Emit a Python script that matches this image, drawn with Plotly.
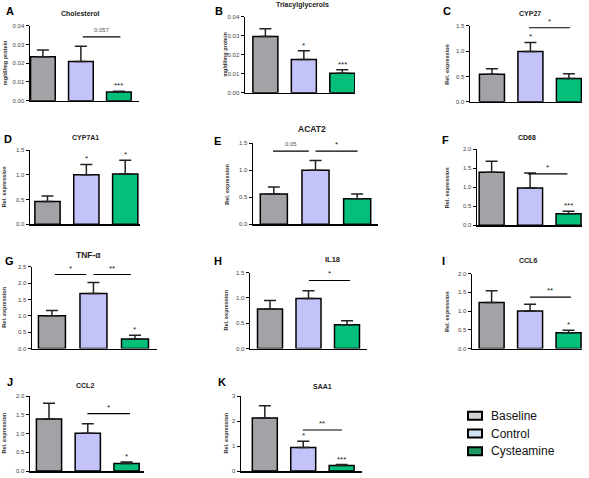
import plotly.graph_objects as go

W, H = 589, 478

groups = ["Baseline", "Control", "Cysteamine"]

cholesterol = [0.0235, 0.0209, 0.0047]
cholesterol_err = [0.0035, 0.0082, 0.0004]
cholesterol_stars = ["", "", "***"]

triacylglycerols = [0.0297, 0.0176, 0.0103]
triacylglycerols_err = [0.0040, 0.0045, 0.0019]
triacylglycerols_stars = ["", "*", "***"]

cyp27 = [0.54, 0.99, 0.46]
cyp27_err = [0.11, 0.18, 0.09]
cyp27_stars = ["", "*", ""]

cyp7a1 = [0.46, 1.00, 1.015]
cyp7a1_err = [0.11, 0.21, 0.28]
cyp7a1_stars = ["", "*", "*"]

acat2 = [0.56, 1.00, 0.47]
acat2_err = [0.13, 0.18, 0.09]
acat2_stars = ["", "", ""]

cd68 = [1.39, 0.98, 0.30]
cd68_err = [0.29, 0.39, 0.065]
cd68_stars = ["", "", "***"]

tnf = [1.00, 1.68, 0.29]
tnf_err = [0.16, 0.34, 0.12]
tnf_stars = ["", "", "*"]

il18 = [0.78, 0.99, 0.47]
il18_err = [0.17, 0.15, 0.08]
il18_stars = ["", "", ""]

ccl6 = [1.23, 1.00, 0.42]
ccl6_err = [0.31, 0.18, 0.07]
ccl6_stars = ["", "", "*"]

ccl2 = [1.39, 1.01, 0.20]
ccl2_err = [0.42, 0.25, 0.04]
ccl2_stars = ["", "", "*"]

saa1 = [2.12, 0.94, 0.22]
saa1_err = [0.49, 0.25, 0.04]
saa1_stars = ["", "*", "***"]

# comparison bracket labels per panel; geometry below
cholesterol_cmp = ["0.057"]
cyp27_cmp = ["*"]
acat2_cmp = ["0.05", "*"]
cd68_cmp = ["*"]
tnf_cmp = ["*", "**"]
il18_cmp = ["*"]
ccl6_cmp = ["**"]
ccl2_cmp = ["*"]
saa1_cmp = ["**"]

bar_colors = ["#a3a2a7", "#c3c3f9", "#03bf7a"]
legend_colors = ["#d4d4d4", "#d2e1f5", "#1f9966"]

FONT = "Arial, Liberation Sans, sans-serif"

panels = [
    dict(letter="A", title="Cholesterol", mean=cholesterol, err=cholesterol_err, stars=cholesterol_stars,
         cmp=cholesterol_cmp, cmp_geo=[(1.05, 2.04, 0.034)], ytitle="mg/dl/mg protein",
         ymax=0.04, dtick=0.01, fmt=".2f", box=(30, 139, 23, 99), xr=(-0.34, 2.53),
         lpos=(10, 8), tpos=(80, 11), tsize=7, ytx=5),
    dict(letter="B", title="Triacylglycerols", mean=triacylglycerols, err=triacylglycerols_err,
         stars=triacylglycerols_stars, cmp=[], cmp_geo=[], ytitle="mg/dl/mg protein",
         ymax=0.04, dtick=0.01, fmt=".2f", box=(245, 355, 14, 91), xr=(-0.53, 2.33),
         lpos=(219, 8), tpos=(302, 2), tsize=7, ytx=225),
    dict(letter="C", title="CYP27", mean=cyp27, err=cyp27_err, stars=cyp27_stars,
         cmp=cyp27_cmp, cmp_geo=[(0.96, 2.03, 1.46)], ytitle="Rel. expression",
         ymax=1.5, dtick=0.5, fmt=".1f", box=(470, 582, 23, 100), xr=(-0.57, 2.34),
         lpos=(447, 8), tpos=(530, 11), tsize=7, ytx=447),
    dict(letter="D", title="CYP7A1", mean=cyp7a1, err=cyp7a1_err, stars=cyp7a1_stars,
         cmp=[], cmp_geo=[], ytitle="Rel. expression",
         ymax=1.5, dtick=0.5, fmt=".1f", box=(30, 140, 149, 224), xr=(-0.45, 2.38),
         lpos=(8, 138), tpos=(85, 136), tsize=7, ytx=4),
    dict(letter="E", title="ACAT2", mean=acat2, err=acat2_err, stars=acat2_stars,
         cmp=acat2_cmp, cmp_geo=[(-0.02, 0.84, 1.354), (1.0, 2.01, 1.354)], ytitle="Rel. expression",
         ymax=1.5, dtick=0.5, fmt=".1f", box=(253, 378, 142, 224), xr=(-0.5, 2.5),
         lpos=(217, 140), tpos=(312, 128), tsize=8.5, ytx=227),
    dict(letter="F", title="CD68", mean=cd68, err=cd68_err, stars=cd68_stars,
         cmp=cd68_cmp, cmp_geo=[(0.94, 1.97, 1.35)], ytitle="Rel. expression",
         ymax=2.0, dtick=0.5, fmt=".1f", box=(477, 582, 148, 225), xr=(-0.38, 2.35),
         lpos=(445, 139), tpos=(527, 136), tsize=7, ytx=447),
    dict(letter="G", title="TNF-α", mean=tnf, err=tnf_err, stars=tnf_stars,
         cmp=tnf_cmp, cmp_geo=[(0.07, 0.83, 2.26), (1.0, 1.9, 2.26)], ytitle="Rel. expression",
         ymax=2.5, dtick=0.5, fmt=".1f", box=(32, 157, 267, 350), xr=(-0.48, 2.53),
         lpos=(9, 261), tpos=(88, 255), tsize=8.5, ytx=4),
    dict(letter="H", title="IL18", mean=il18, err=il18_err, stars=il18_stars,
         cmp=il18_cmp, cmp_geo=[(1.01, 2.08, 1.344)], ytitle="Rel. expression",
         ymax=1.5, dtick=0.5, fmt=".1f", box=(250, 367, 273, 350), xr=(-0.52, 2.52),
         lpos=(218, 261), tpos=(332, 260), tsize=7.5, ytx=226),
    dict(letter="I", title="CCL6", mean=ccl6, err=ccl6_err, stars=ccl6_stars,
         cmp=ccl6_cmp, cmp_geo=[(1.0, 2.06, 1.37)], ytitle="Rel. expression",
         ymax=2.0, dtick=0.5, fmt=".1f", box=(472, 582, 274, 350), xr=(-0.51, 2.35),
         lpos=(443, 261), tpos=(528, 261), tsize=7, ytx=447),
    dict(letter="J", title="CCL2", mean=ccl2, err=ccl2_err, stars=ccl2_stars,
         cmp=ccl2_cmp, cmp_geo=[(0.99, 2.09, 1.53)], ytitle="Rel. expression",
         ymax=2.0, dtick=0.5, fmt=".1f", box=(30, 144, 398, 474), xr=(-0.49, 2.45),
         lpos=(10, 384), tpos=(85, 387), tsize=7, ytx=4),
    dict(letter="K", title="SAA1", mean=saa1, err=saa1_err, stars=saa1_stars,
         cmp=saa1_cmp, cmp_geo=[(0.99, 2.01, 1.64)], ytitle="Rel. expression",
         ymax=3, dtick=1, fmt="d", box=(241, 362, 398, 474), xr=(-0.62, 2.53),
         lpos=(222, 384), tpos=(322, 388), tsize=7, ytx=226),
]

fig = go.Figure()
annotations = []
shapes = []
layout = {}


def px(x):
    return x / W


def py(y):
    return 1 - y / H


for k, p in enumerate(panels, start=1):
    xa = "x" if k == 1 else f"x{k}"
    ya = "y" if k == 1 else f"y{k}"
    x0, x1, ytop, ybot = p["box"]
    fig.add_trace(go.Bar(
        x=[0, 1, 2], y=p["mean"], xaxis=xa, yaxis=ya, width=0.65,
        marker=dict(color=bar_colors, line=dict(color="black", width=1.5)),
        error_y=dict(type="data", array=p["err"], arrayminus=[0, 0, 0], symmetric=False,
                     color="#222222", thickness=1.5, width=6),
        showlegend=False, hoverinfo="skip",
    ))
    layout["xaxis" if k == 1 else f"xaxis{k}"] = dict(
        domain=[px(x0), px(x1)], range=list(p["xr"]), anchor=ya,
        showline=True, linecolor="black", linewidth=1.5, showticklabels=False,
        ticks="", showgrid=False, zeroline=False, fixedrange=True)
    layout["yaxis" if k == 1 else f"yaxis{k}"] = dict(
        domain=[py(ybot), py(ytop)], range=[0, p["ymax"]], anchor=xa,
        showline=True, linecolor="black", linewidth=1.5, ticks="outside", ticklen=3,
        tickwidth=1, tickcolor="black", dtick=p["dtick"], tick0=0, tickformat=p["fmt"],
        tickfont=dict(family=FONT, size=6, color="#444444"),
        showgrid=False, zeroline=False, fixedrange=True)
    # stars over bars
    for i, s in enumerate(p["stars"]):
        if s:
            annotations.append(dict(x=i, y=p["mean"][i] + p["err"][i], xref=xa, yref=ya,
                                    text=s, showarrow=False, yanchor="bottom", yshift=-1,
                                    font=dict(family=FONT, size=8, color="#222222")))
    # comparison brackets
    for lab, (bx0, bx1, by) in zip(p["cmp"], p["cmp_geo"]):
        shapes.append(dict(type="line", xref=xa, yref=ya, x0=bx0, x1=bx1, y0=by, y1=by,
                           line=dict(color="black", width=1.2)))
        is_star = lab.startswith("*")
        annotations.append(dict(x=(bx0 + bx1) / 2, y=by, xref=xa, yref=ya, text=lab,
                                showarrow=False, yanchor="bottom", yshift=(0 if is_star else 2),
                                font=dict(family=FONT, size=(8 if is_star else 6),
                                          color=("#222222" if is_star else "#555555"))))
    # panel letter
    annotations.append(dict(x=px(p["lpos"][0]), y=py(p["lpos"][1]), xref="paper", yref="paper",
                            text=f"<b>{p['letter']}</b>", showarrow=False,
                            xanchor="center", yanchor="middle",
                            font=dict(family=FONT, size=11, color="black")))
    # title
    annotations.append(dict(x=px(p["tpos"][0]), y=py(p["tpos"][1]), xref="paper", yref="paper",
                            text=f"<b>{p['title']}</b>", showarrow=False,
                            xanchor="center", yanchor="middle",
                            font=dict(family=FONT, size=p["tsize"], color="#222222")))
    # y title
    annotations.append(dict(x=px(p["ytx"]), y=py((ytop + ybot) / 2), xref="paper", yref="paper",
                            text=f"<b>{p['ytitle']}</b>", showarrow=False, textangle=-90,
                            xanchor="center", yanchor="middle",
                            font=dict(family=FONT, size=5.5, color="#333333")))

# legend
leg_y = [418, 436, 454]
for name, col, yy in zip(groups, legend_colors, leg_y):
    shapes.append(dict(type="rect", xref="paper", yref="paper",
                       x0=px(468), x1=px(482), y0=py(yy + 4), y1=py(yy - 4),
                       fillcolor=col, line=dict(color="black", width=2)))
    annotations.append(dict(x=px(489), y=py(yy), xref="paper", yref="paper", text=name,
                            showarrow=False, xanchor="left", yanchor="middle",
                            font=dict(family=FONT, size=12, color="#111111")))

fig.update_layout(
    width=W, height=H, autosize=False,
    margin=dict(l=0, r=0, t=0, b=0),
    paper_bgcolor="white", plot_bgcolor="white",
    annotations=annotations, shapes=shapes,
    font=dict(family=FONT),
    hovermode=False,
    **layout,
)

fig.write_html("out.html",
               config={"displayModeBar": False, "staticPlot": True},
               post_script="document.body.style.margin='0';document.body.style.padding='0';")
